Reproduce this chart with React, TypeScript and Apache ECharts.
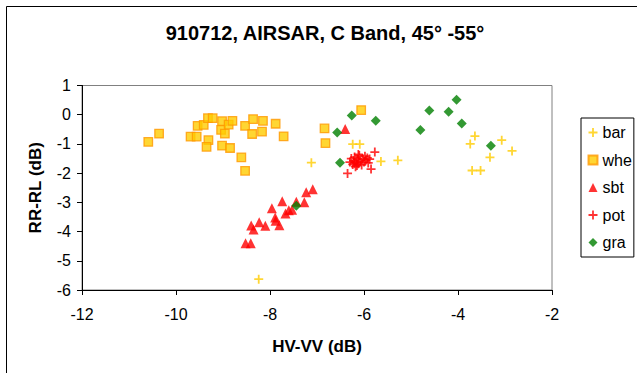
import React, { useEffect, useRef } from "react";
import * as echarts from "echarts";

const titleText = "910712, AIRSAR, C Band, 45° -55°";
const xAxisName = "HV-VV (dB)";
const yAxisName = "RR-RL (dB)";
const seriesNames = ["bar", "whe", "sbt", "pot", "gra"];

const barData: number[][] = [
  [-8.24, -5.63], [-7.12, -1.64], [-6.24, -1.01], [-6.09, -1.01], [-5.64, -1.6],
  [-5.28, -1.56], [-3.74, -1.0], [-3.64, -0.73], [-3.7, -1.91], [-3.52, -1.91],
  [-3.32, -1.46], [-3.07, -0.87], [-2.85, -1.24],
];

const wheData: number[][] = [
  [-10.59, -0.93], [-10.36, -0.65], [-9.69, -0.75], [-9.56, -0.75], [-9.54, -0.38],
  [-9.41, -0.35], [-9.31, -0.87], [-9.35, -1.1], [-9.32, -0.12], [-9.22, -0.12],
  [-9.02, -0.22], [-9.04, -0.52], [-8.96, -0.65], [-9.02, -1.06], [-8.88, -0.34],
  [-8.8, -0.21], [-8.85, -1.14], [-8.61, -1.46], [-8.53, -0.38], [-8.53, -1.92],
  [-8.38, -0.66], [-8.36, -0.15], [-8.17, -0.58], [-8.15, -0.21], [-7.88, -0.31],
  [-7.71, -0.74], [-6.84, -0.47], [-6.82, -0.97], [-6.06, 0.16],
];

const sbtData: number[][] = [
  [-6.4, -0.49], [-8.52, -4.4], [-8.41, -4.4], [-8.4, -3.79], [-8.35, -3.93],
  [-8.23, -3.68], [-8.1, -3.8], [-7.96, -3.2], [-7.89, -3.52], [-7.88, -3.63],
  [-7.8, -3.78], [-7.74, -2.96], [-7.67, -3.38], [-7.6, -3.27], [-7.53, -3.25],
  [-7.44, -2.98], [-7.27, -3.0], [-7.23, -2.65], [-7.09, -2.55],
];

const potData: number[][] = [
  [-5.77, -1.28], [-5.85, -1.86], [-6.35, -2.01],
  [-6.3, -1.62], [-6.27, -1.5], [-6.24, -1.7], [-6.22, -1.58], [-6.2, -1.45],
  [-6.18, -1.78], [-6.16, -1.62], [-6.14, -1.52], [-6.12, -1.68], [-6.1, -1.4],
  [-6.08, -1.58], [-6.05, -1.72], [-6.03, -1.5], [-6.0, -1.62], [-5.98, -1.42],
  [-5.96, -1.55], [-5.93, -1.48], [-5.91, -1.65], [-5.88, -1.52], [-6.2, -1.66],
  [-6.12, -1.36], [-6.15, -1.74],
];

const graData: number[][] = [
  [-6.57, -0.61], [-6.51, -1.64], [-6.26, -0.03], [-5.75, -0.21], [-7.44, -3.12],
  [-4.8, -0.52], [-4.61, 0.14], [-4.2, 0.1], [-4.03, 0.51], [-3.92, -0.3],
  [-3.3, -1.06],
];

const PLUS = "path://M0,3.2H8V4.8H0Z M3.2,0H4.8V8H3.2Z";
const FONT = "'Liberation Sans', Arial, sans-serif";

export default function App() {
  const ref = useRef<HTMLDivElement>(null);
  useEffect(() => {
    if (!ref.current) return;
    const chart = echarts.init(ref.current, undefined, { renderer: "svg" });
    chart.setOption({
      animation: false,
      backgroundColor: "#ffffff",
      textStyle: { fontFamily: FONT },
      title: {
        text: titleText,
        left: 325,
        top: 23,
        textAlign: "center",
        padding: 0,
        textStyle: { fontFamily: FONT, fontSize: 20, fontWeight: "bold", color: "#000" },
      },
      graphic: [
        {
          type: "rect",
          silent: true,
          z: -10,
          shape: { x: 6.5, y: 6.5, width: 700, height: 500 },
          style: { fill: "none", stroke: "#000", lineWidth: 1 },
        },
      ],
      legend: {
        orient: "vertical",
        left: 581,
        top: 118,
        data: seriesNames,
        itemWidth: 9,
        itemHeight: 9,
        itemGap: 11.5,
        padding: [6.5, 2, 6.5, 6.5],
        borderColor: "#000",
        borderWidth: 1,
        backgroundColor: "#fff",
        textStyle: { fontFamily: FONT, fontSize: 16, lineHeight: 16, color: "#000" },
      },
      grid: {
        left: 82,
        right: 85,
        top: 85.5,
        bottom: 83,
        show: true,
        borderColor: "#808080",
        borderWidth: 1,
        backgroundColor: "#fff",
      },
      xAxis: {
        type: "value",
        min: -12,
        max: -2,
        interval: 2,
        name: xAxisName,
        nameLocation: "middle",
        nameGap: 48,
        nameTextStyle: { fontFamily: FONT, fontSize: 17, fontWeight: "bold", color: "#000" },
        axisLine: { show: true, onZero: false, lineStyle: { color: "#000", width: 1 } },
        axisTick: { show: true, inside: false, length: 5, lineStyle: { color: "#000" } },
        axisLabel: { margin: 16, fontFamily: FONT, fontSize: 16, color: "#000" },
        splitLine: { show: false },
      },
      yAxis: {
        type: "value",
        min: -6,
        max: 1,
        interval: 1,
        name: yAxisName,
        nameLocation: "middle",
        nameGap: 38,
        nameRotate: 90,
        nameTextStyle: { fontFamily: FONT, fontSize: 17, fontWeight: "bold", color: "#000" },
        axisLine: { show: true, onZero: false, lineStyle: { color: "#000", width: 1 } },
        axisTick: { show: true, inside: false, length: 5, lineStyle: { color: "#000" } },
        axisLabel: { margin: 11, fontFamily: FONT, fontSize: 16, color: "#000" },
        splitLine: { show: false },
      },
      series: [
        {
          name: "bar",
          type: "scatter",
          data: barData,
          symbol: PLUS,
          symbolSize: 9,
          itemStyle: { color: "#FFCC00" },
        },
        {
          name: "whe",
          type: "scatter",
          data: wheData,
          symbol: "rect",
          symbolSize: 8.5,
          itemStyle: { color: "#FFCC00", borderColor: "#FF9900", borderWidth: 1.3 },
        },
        {
          name: "sbt",
          type: "scatter",
          data: sbtData,
          symbol: "triangle",
          symbolSize: 10,
          itemStyle: { color: "#FF0000" },
        },
        {
          name: "pot",
          type: "scatter",
          data: potData,
          symbol: PLUS,
          symbolSize: 9,
          itemStyle: { color: "#FF0000" },
        },
        {
          name: "gra",
          type: "scatter",
          data: graData,
          symbol: "diamond",
          symbolSize: 10,
          itemStyle: { color: "#008000" },
        },
      ],
    });
    return () => chart.dispose();
  }, []);
  return (
    <div
      ref={ref}
      style={{ position: "absolute", left: 0, top: 0, width: 637, height: 373 }}
    />
  );
}
